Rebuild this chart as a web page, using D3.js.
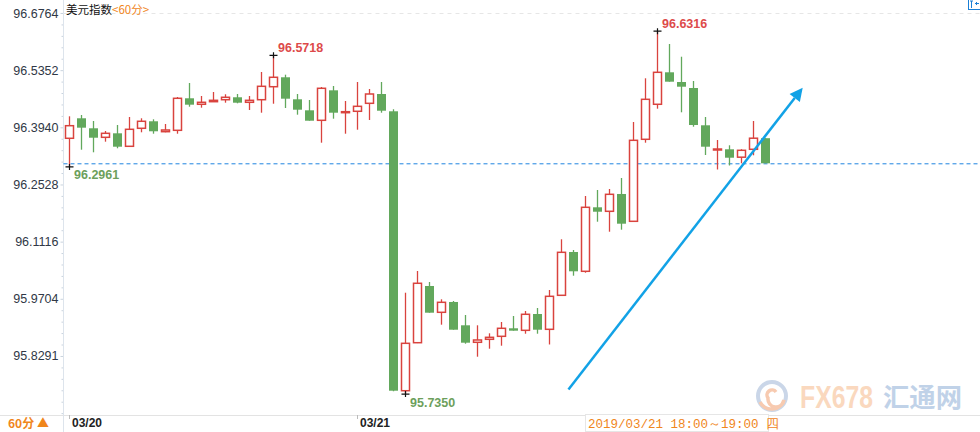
<!DOCTYPE html>
<html>
<head>
<meta charset="utf-8">
<script src="https://cdn.jsdelivr.net/npm/d3@7"></script>
<style>
  html, body { margin: 0; padding: 0; background: #fff; }
  svg { display: block; font-family: "Liberation Sans", Arial, sans-serif; }
</style>
</head>
<body>
<svg id="chart" width="980" height="432"></svg>
<script>
// ---------- data ----------
const opens = [96.3669,96.4163,96.3916,96.3693,96.3792,96.3471,96.3916,96.4089,96.3832,96.3866,
96.4657,96.4509,96.4573,96.4622,96.4682,96.4558,96.4622,96.4943,96.5176,96.4632,
96.4360,96.4113,96.4854,96.4311,96.4336,96.4533,96.4763,96.4336,95.7433,95.8619,
96.0020,95.9370,95.9625,95.9049,95.8629,95.8703,95.8777,95.8975,95.8925,95.9328,
95.8950,95.9790,96.0860,96.0383,96.1964,96.1865,96.2293,96.1618,96.3644,96.4509,
96.5299,96.5059,96.4911,96.3990,96.3397,96.3397,96.3202,96.3397,96.3671];
const highs = [96.4212,96.4244,96.4096,96.3849,96.3997,96.4195,96.4163,96.4138,96.4022,96.4689,
96.5035,96.4714,96.4812,96.4756,96.4763,96.4714,96.5307,96.5718,96.5240,96.4763,
96.4615,96.4936,96.4961,96.4590,96.5059,96.4887,96.5059,96.4385,95.9854,96.0390,
96.0119,95.9691,95.9649,95.9303,95.9049,95.8851,95.9131,95.9279,95.9402,95.9476,
95.9921,96.1174,96.0909,96.2243,96.2391,96.2416,96.2688,96.4071,96.5151,96.6316,
96.5998,96.5684,96.5084,96.4195,96.3627,96.3496,96.3399,96.4096,96.3671];
const lows = [96.2961,96.3387,96.3323,96.3585,96.3422,96.3454,96.3817,96.3782,96.3817,96.3782,
96.4449,96.4425,96.4573,96.4548,96.4533,96.4368,96.4301,96.4523,96.4417,96.4252,
96.4103,96.3560,96.4153,96.3782,96.3881,96.4121,96.4301,95.7420,95.7350,95.8610,
95.9360,95.9064,95.8940,95.8594,95.8273,95.8471,95.8545,95.8916,95.8841,95.8841,
95.8575,95.9790,96.0274,96.0348,96.1608,96.1361,96.1411,96.1601,96.3560,96.4400,
96.5067,96.4311,96.3955,96.3256,96.2898,96.2997,96.3051,96.3249,96.3051];
const closes = [96.3980,96.3931,96.3683,96.3792,96.3461,96.3891,96.4089,96.3842,96.3874,96.4657,
96.4499,96.4558,96.4607,96.4682,96.4548,96.4607,96.4953,96.5176,96.4647,96.4375,
96.4103,96.4904,96.4301,96.4326,96.4459,96.4763,96.4350,95.7433,95.8604,96.0087,
95.9360,95.9617,95.8940,95.8619,95.8686,95.8752,95.8975,95.8916,95.9321,95.8940,
95.9765,96.0852,96.0383,96.1964,96.1855,96.2285,96.1559,96.3619,96.4632,96.5299,
96.5067,96.4943,96.3997,96.3461,96.3404,96.3189,96.3372,96.3671,96.3051];
const yTickValues = [96.6764, 96.5352, 96.3940, 96.2528, 96.1116, 95.9704, 95.8291];
const dateTickIndex = [0, 24];
const dateTickLabels = ["03/20", "03/21"];
// annotated extremes: [candle index, which]
const markIndex = [17, 49, 0, 28];
const markType = ["high", "high", "low", "low"];
// trend arrow (candle index, price) start -> tip
const arrowFrom = [41.58, 95.7463];
const arrowTo = [61.1, 96.4919];
const titleText = "美元指数";
const periodText = "<60分>";
const tooltipText = "2019/03/21 18:00～19:00 四";

// ---------- layout ----------
const W = 980, H = 432;
const axisX = 63.5, plotTop = 13, plotBottom = 415;
const RED = "#d9433e", GREEN = "#62a85c", ORANGE = "#f0861c";

const svg = d3.select("#chart");
const n = closes.length;
const x = d3.scaleLinear().domain([0, 1]).range([69.5, 81.5]); // 12px per candle
const y = d3.scaleLinear().domain([95.6833, 96.6764]).range([plotBottom, plotTop]);

// top dashed grid
svg.append("line").attr("x1", axisX).attr("x2", W).attr("y1", y(yTickValues[0]) + 0.5).attr("y2", y(yTickValues[0]) + 0.5)
  .attr("stroke", "#e6e6e6").attr("stroke-dasharray", "4,4");

// bottom line
svg.append("line").attr("x1", 0).attr("x2", W).attr("y1", plotBottom + 0.5).attr("y2", plotBottom + 0.5)
  .attr("stroke", "#e3e3e3");

// y axis
const minor = [];
const step = (yTickValues[0] - yTickValues[1]) / 5;
for (let k = 0; k < yTickValues.length; k++) {
  for (let j = 1; j < 5; j++) minor.push(yTickValues[k] - j * step);
}
minor.push(yTickValues[yTickValues.length - 1] - 5 * step);
const yAxis = svg.append("g").attr("transform", `translate(${axisX},0)`)
  .call(d3.axisLeft(y).tickValues(yTickValues).tickFormat(d3.format(".4f")).tickSize(3).tickPadding(2));
yAxis.select(".domain").remove();
yAxis.selectAll("line").attr("stroke", "#c9d3de");
yAxis.selectAll("text").attr("fill", "#303846").style("font-size", "12.5px").style("font-family", "Liberation Sans, Arial, sans-serif");
const yMinor = svg.append("g").attr("transform", `translate(${axisX},0)`)
  .call(d3.axisLeft(y).tickValues(minor).tickFormat("").tickSize(2));
yMinor.select(".domain").remove();
yMinor.selectAll("line").attr("stroke", "#c9d3de");
svg.append("line").attr("x1", axisX).attr("x2", axisX).attr("y1", 0).attr("y2", H).attr("stroke", "#dde4ec");

// x axis date ticks
const xAxis = svg.append("g").attr("transform", `translate(0,${plotBottom})`)
  .call(d3.axisBottom(x).tickValues(dateTickIndex).tickSize(4).tickFormat((d, i) => dateTickLabels[i]));
xAxis.select(".domain").remove();
xAxis.selectAll("line").attr("stroke", "#bbbbbb").attr("transform", "translate(-0.5,0)");
xAxis.selectAll("text").attr("text-anchor", "start").attr("dx", 2).attr("y", 3)
  .attr("fill", "#222").style("font-size", "12px").style("font-weight", "bold")
  .style("font-family", "Liberation Sans, Arial, sans-serif");

// current price dashed line
svg.append("line").attr("x1", axisX).attr("x2", W)
  .attr("y1", y(closes[n - 1]) + 0.5).attr("y2", y(closes[n - 1]) + 0.5)
  .attr("stroke", "#1e84e0").attr("stroke-dasharray", "4,3");

// candles
const idx = d3.range(n);
const up = i => closes[i] >= opens[i];
const g = svg.append("g");
g.selectAll("line.wick").data(idx).join("line").attr("class", "wick")
  .attr("x1", i => x(i)).attr("x2", i => x(i))
  .attr("y1", i => y(highs[i])).attr("y2", i => y(lows[i]))
  .attr("stroke", i => up(i) ? RED : GREEN).attr("stroke-width", 1.3);
g.selectAll("rect.body").data(idx).join("rect").attr("class", "body")
  .attr("x", i => up(i) ? x(i) - 4 : x(i) - 4.5)
  .attr("width", i => up(i) ? 8 : 9)
  .attr("y", i => y(Math.max(opens[i], closes[i])))
  .attr("height", i => Math.max(1, y(Math.min(opens[i], closes[i])) - y(Math.max(opens[i], closes[i]))))
  .attr("fill", i => up(i) ? "#fff" : GREEN)
  .attr("stroke", i => up(i) ? RED : "none")
  .attr("stroke-width", 1.5);

// extreme markers
markIndex.forEach((mi, k) => {
  const isHigh = markType[k] === "high";
  const v = isHigh ? highs[mi] : lows[mi];
  const cx = x(mi), cy = y(v);
  svg.append("path").attr("d", `M${cx - 4},${cy}H${cx + 4}M${cx},${cy - 3}V${cy + 3}`)
    .attr("stroke", "#111").attr("stroke-width", 1.2);
  svg.append("text").attr("x", cx + 4.5).attr("y", isHigh ? cy - 3 : cy + 12.5)
    .attr("fill", isHigh ? "#dd4a4a" : "#6d9f5c")
    .style("font-size", "12.5px").style("font-weight", "bold")
    .text(d3.format(".4f")(v));
});

// arrow
const ax1 = x(arrowFrom[0]), ay1 = y(arrowFrom[1]), ax2 = x(arrowTo[0]), ay2 = y(arrowTo[1]);
const ang = Math.atan2(ay2 - ay1, ax2 - ax1);
const headLen = 13, headW = 6.5;
const bx = ax2 - headLen * Math.cos(ang), by = ay2 - headLen * Math.sin(ang);
svg.append("line").attr("x1", ax1).attr("y1", ay1).attr("x2", bx).attr("y2", by)
  .attr("stroke", "#12a2e6").attr("stroke-width", 2.5);
svg.append("path")
  .attr("d", `M${ax2},${ay2}L${bx + headW * Math.sin(ang)},${by - headW * Math.cos(ang)}L${bx - headW * Math.sin(ang)},${by + headW * Math.cos(ang)}Z`)
  .attr("fill", "#12a2e6");

// title
const title = svg.append("text").attr("x", 66).attr("y", 13.5)
  .style("font-family", "Noto Sans CJK SC, sans-serif").style("font-size", "11.5px");
title.append("tspan").attr("fill", "#111").text(titleText);
title.append("tspan").attr("fill", ORANGE).text(periodText);

// top-right icon
svg.append("rect").attr("x", 968.5).attr("y", -1).attr("width", 12).attr("height", 10.5)
  .attr("fill", "none").attr("stroke", "#1a7fd6");
svg.append("path").attr("d", "M971.5,1V8M970,1H973M975,3.5H979M976.5,2V5")
  .attr("stroke", "#1a7fd6").attr("stroke-width", 1);

// bottom-left period label
svg.append("text").attr("x", 8).attr("y", 428).attr("fill", ORANGE)
  .style("font-family", "Noto Sans CJK SC, sans-serif").style("font-size", "12px").style("font-weight", "bold")
  .text("60分 ▲");

// watermark
const wm = svg.append("g").attr("opacity", 0.55);
wm.append("circle").attr("cx", 772).attr("cy", 396).attr("r", 14).attr("fill", "none")
  .attr("stroke", "#9fb6d6").attr("stroke-width", 4);
wm.append("path").attr("d", "M760,402 A13,13 0 0 0 784,400 A8,8 0 0 1 768,398 A5,5 0 0 1 776,392")
  .attr("fill", "none").attr("stroke", "#f2a070").attr("stroke-width", 3.5);
wm.append("text").attr("x", 800).attr("y", 408).attr("fill", "#f6b98a")
  .attr("textLength", 73).attr("lengthAdjust", "spacingAndGlyphs")
  .style("font-size", "31px").style("font-weight", "bold").text("FX678");
wm.append("text").attr("x", 883).attr("y", 407).attr("fill", "#8eaed6")
  .attr("textLength", 79).attr("lengthAdjust", "spacingAndGlyphs")
  .style("font-family", "Noto Sans CJK SC, sans-serif").style("font-size", "26px").style("font-weight", "bold").text("汇通网");

// tooltip
svg.append("rect").attr("x", 585.5).attr("y", 414.5).attr("width", 183).attr("height", 17)
  .attr("fill", "#fff").attr("stroke", "#e6e6e6");
svg.append("text").attr("x", 588).attr("y", 427.5).attr("fill", ORANGE)
  .style("font-family", "Liberation Mono, DejaVu Sans Mono, monospace").style("font-size", "12.5px")
  .text(tooltipText);
</script>
</body>
</html>
